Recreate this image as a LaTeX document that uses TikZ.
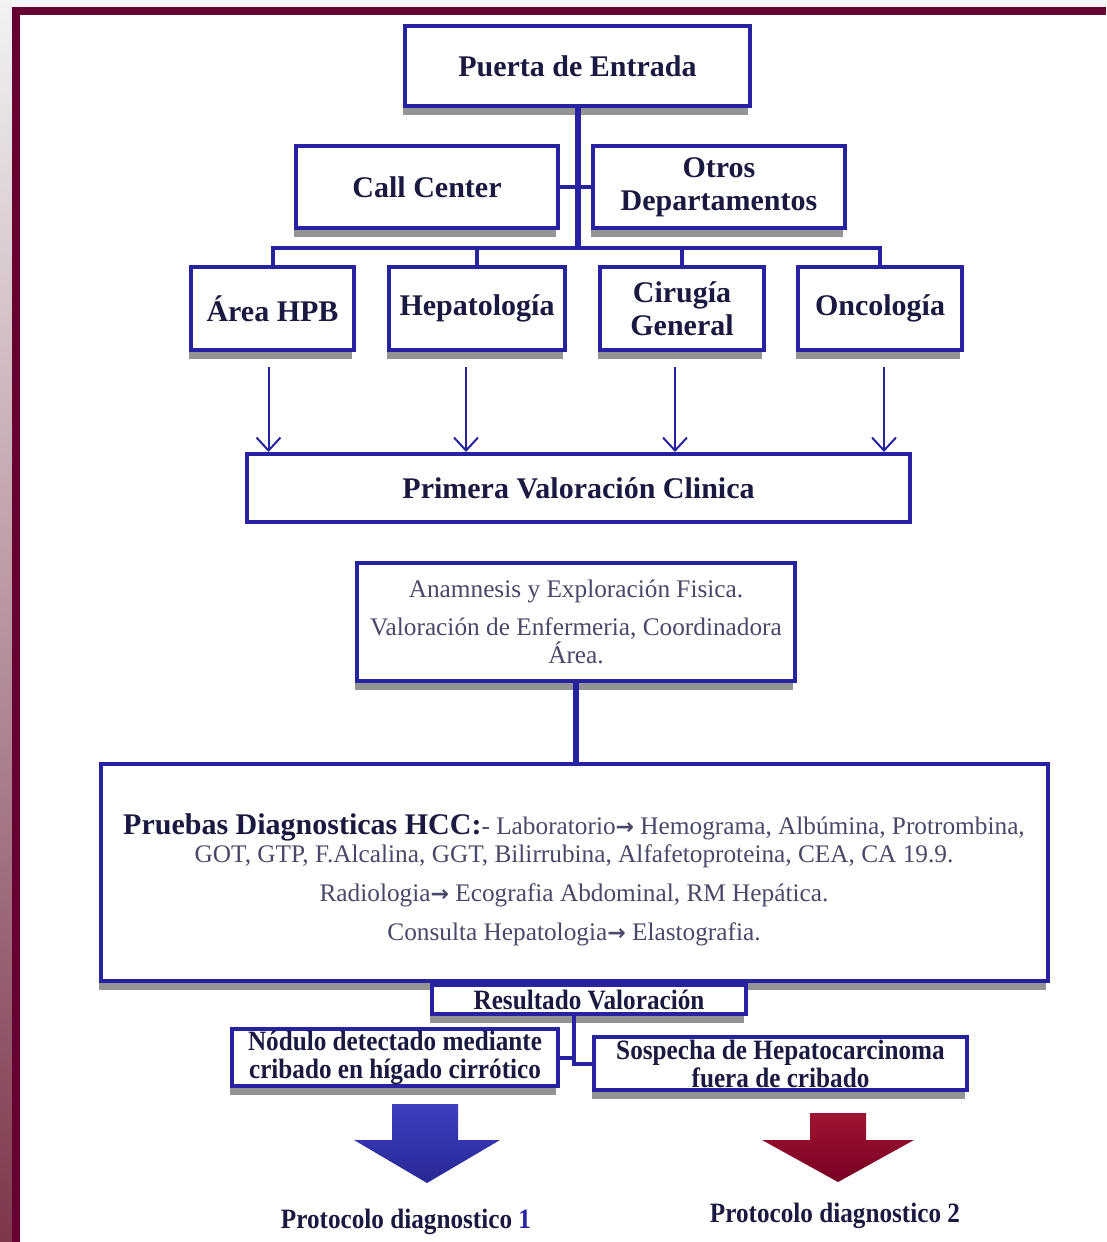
\documentclass[tikz,border=0pt]{standalone}
\usepackage{fontspec}
\setmainfont{Liberation Serif}
\newfontfamily\condfont[FakeStretch=0.9]{Liberation Serif}
\newfontfamily\arrowfont{DejaVu Sans}
\usetikzlibrary{arrows.meta,shadows,patterns}
\definecolor{boxblue}{RGB}{38,34,160}
\definecolor{navy}{RGB}{26,26,64}
\definecolor{softtext}{RGB}{72,72,104}
\definecolor{framemaroon}{RGB}{102,0,51}
\definecolor{arrblueA}{RGB}{62,62,192}
\definecolor{arrblueB}{RGB}{40,40,150}
\definecolor{arrredA}{RGB}{160,20,50}
\definecolor{arrredB}{RGB}{120,0,35}
\newcommand{\thickarr}{{\arrowfont\bfseries\fontsize{22}{22}\selectfont →}}
\begin{document}
\begin{tikzpicture}[x=1pt,y=-1pt,
  box/.style={draw=boxblue, line width=4pt, fill=white, inner sep=0pt, align=center, text=navy,
     drop shadow={shadow xshift=-2pt, shadow yshift=-9pt, opacity=1, fill=black!42}},
  head/.style={font=\bfseries\fontsize{30}{33}\selectfont},
  small/.style={font=\condfont\bfseries\fontsize{28}{28}\selectfont, text=navy, align=center},
  body/.style={text=softtext, font=\fontsize{25.3}{28}\selectfont, align=center},
  conn/.style={draw=boxblue, line width=4pt},
  trunk/.style={draw=boxblue, line width=6pt},
  thinarrow/.style={draw=boxblue, line width=2pt, -{Straight Barb[length=13pt,width=24pt]}}
]
\useasboundingbox (0,0) rectangle (1106,1242);
% frame
\fill[gray!6] (0,0) rectangle (1106,7);
\shade[top color=gray!10, bottom color={rgb,255:red,125;green,55;blue,75}] (0,0) rectangle (12,1242);
\fill[framemaroon] (12,7) rectangle (1106,15);
\fill[framemaroon] (12,7) rectangle (20,1242);

\coordinate (bus) at (577,248);

% top boxes
\node[box, head, minimum width=345, minimum height=80] (puerta) at (577.5,66) {Puerta de Entrada};
\node[box, head, minimum width=262, minimum height=82] (callc) at (427,187) {Call Center};
\node[box, head, minimum width=252, minimum height=82] (otros) at (719,187) {Otros\\Departamentos};

\node[box, head, minimum width=163, minimum height=83] (hpb) at (272.5,308.5) {Área HPB};
\node[box, head, minimum width=176, minimum height=83] (hepa) at (477,308.5) {Hepatología};
\node[box, head, minimum width=164, minimum height=83] (ciru) at (682,308.5) {Cirugía\\General};
\node[box, head, minimum width=164, minimum height=83] (onco) at (880,308.5) {Oncología};

% trunk and bus
\draw[trunk] (puerta.south) -- (puerta.south |- bus);
\draw[conn] (callc.east) -- (otros.west);
\draw[conn] (hpb.north) -- (hpb.north |- bus) -- (onco.north |- bus) -- (onco.north);
\draw[conn] (hepa.north) -- (hepa.north |- bus);
\draw[conn] (ciru.north) -- (ciru.north |- bus);

\node[draw=boxblue, line width=4pt, fill=white, inner sep=0pt, text=navy, font=\bfseries\fontsize{30}{33}\selectfont,
      minimum width=663, minimum height=68] (primera) at (578.5,488) {Primera Valoración Clinica};

\draw[thinarrow] ([xshift=-4pt,yshift=-15pt]hpb.south) -- ([xshift=-4pt]hpb.south |- primera.north);
\draw[thinarrow] ([xshift=-11pt,yshift=-15pt]hepa.south) -- ([xshift=-11pt]hepa.south |- primera.north);
\draw[thinarrow] ([xshift=-7pt,yshift=-15pt]ciru.south) -- ([xshift=-7pt]ciru.south |- primera.north);
\draw[thinarrow] ([xshift=4pt,yshift=-15pt]onco.south) -- ([xshift=4pt]onco.south |- primera.north);

% middle
\node[box, body, minimum width=438, minimum height=118] (anam) at (576,622)
  {Anamnesis y Exploración Fisica.\\[10pt]Valoración de Enfermeria, Coordinadora\\Área.};
\node[box, minimum width=947, minimum height=217] (pruebas) at (574.5,872.5) {};
\draw[trunk] (anam.south) -- (anam.south |- pruebas.north);
\node[body] (pruebastxt) at (574,880)
  {{\color{navy}\bfseries\fontsize{30}{28}\selectfont Pruebas Diagnosticas HCC:}- Laboratorio\thickarr\ Hemograma, Albúmina, Protrombina,\\
   GOT, GTP, F.Alcalina, GGT, Bilirrubina, Alfafetoproteina, CEA, CA 19.9.\\[11pt]
   Radiologia\thickarr\ Ecografia Abdominal, RM Hepática.\\[11pt]
   Consulta Hepatologia\thickarr\ Elastografia.};

% bottom
\node[box, small, minimum width=314, minimum height=29] (resul) at (589,999.5) {Resultado Valoración};
\node[box, small, minimum width=326, minimum height=57] (nodulo) at (395,1057.5) {Nódulo detectado mediante\\cribado en hígado cirrótico};
\node[box, small, minimum width=373, minimum height=53] (sospecha) at (780.5,1063.5) {Sospecha de Hepatocarcinoma\\fuera de cribado};
\draw[conn] ([xshift=-15pt]resul.south) |- (sospecha.west);
\draw[conn] (nodulo.east) -| ([xshift=-15pt]resul.south);

% big arrows
\shade[top color=arrblueA, bottom color=arrblueB] (392,1104) -- (458,1104) -- (458,1140) -- (500,1140) -- (427,1183) -- (354,1140) -- (392,1140) -- cycle;
\shade[top color=arrredA, bottom color=arrredB] (810,1113) -- (866,1113) -- (866,1140) -- (914,1140) -- (838,1182) -- (762,1140) -- (810,1140) -- cycle;

\node[small] (proto1) at (406,1222) {Protocolo diagnostico {\color{boxblue}1}};
\node[small] (proto2) at (835,1216) {Protocolo diagnostico 2};
\end{tikzpicture}
\end{document}
